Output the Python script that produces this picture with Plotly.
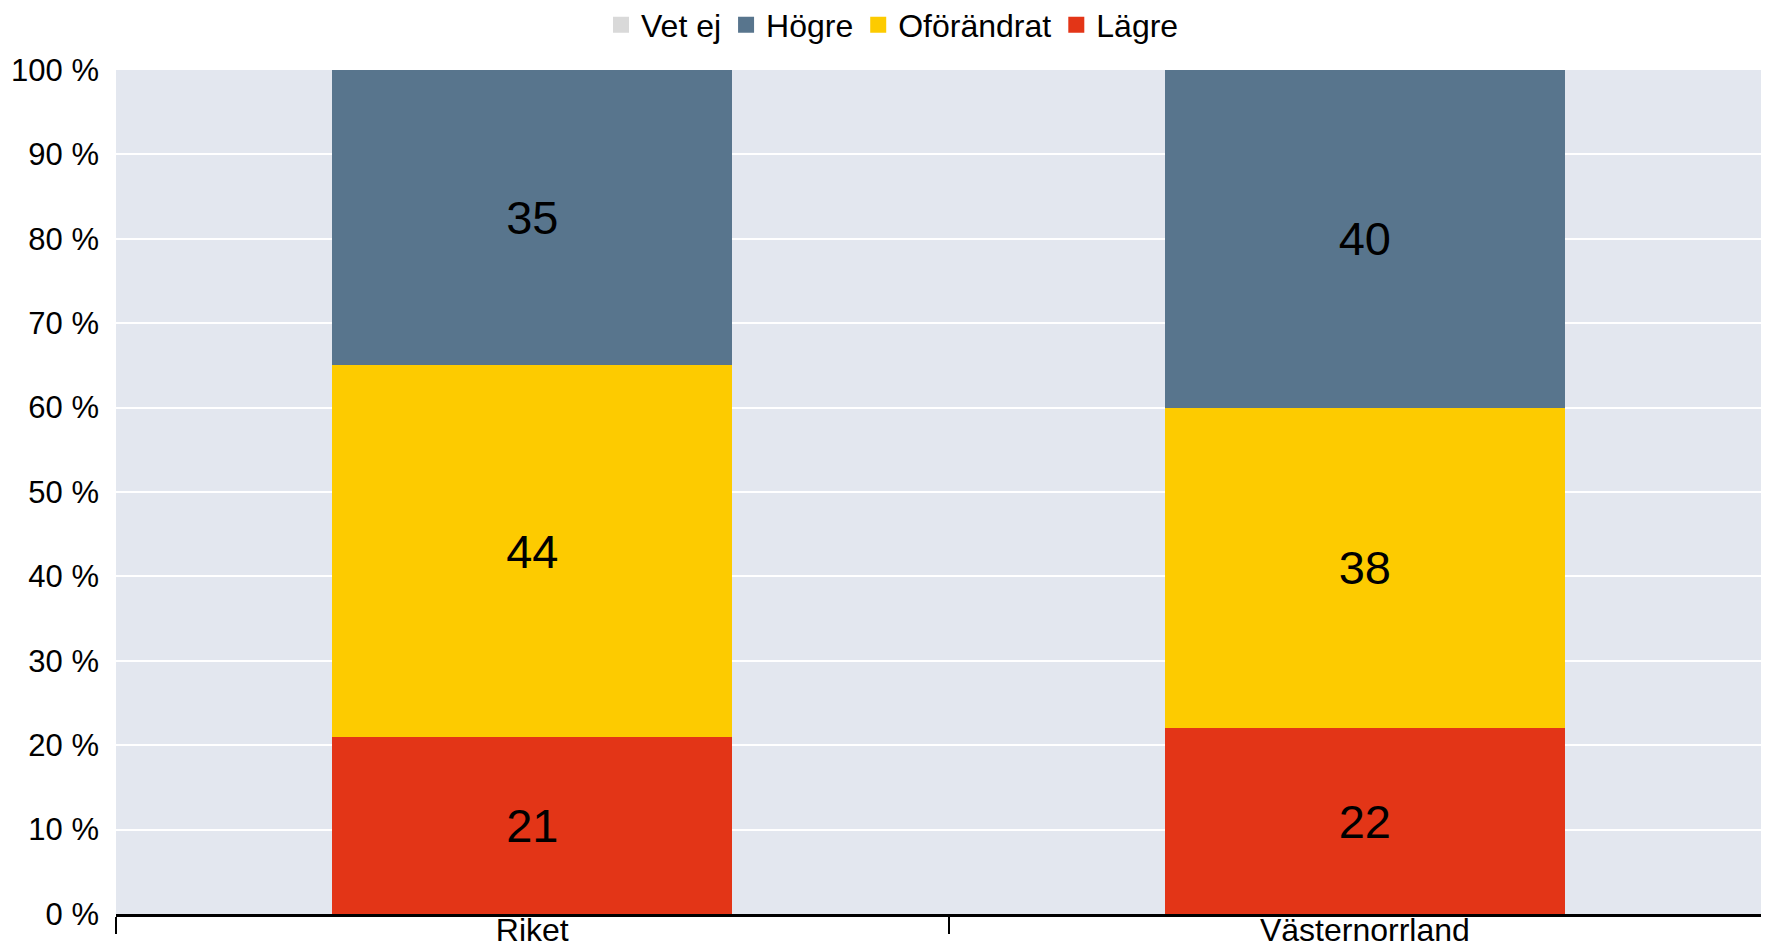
import plotly.graph_objects as go

categories = ["Riket", "Västernorrland"]
lagre = [21, 22]
oforandrat = [44, 38]
hogre = [35, 40]
vet_ej = [0, 0]

series = [
    ("Lägre", lagre, "#e33517"),
    ("Oförändrat", oforandrat, "#fdcb00"),
    ("Högre", hogre, "#58758d"),
    ("Vet ej", vet_ej, "#d9d9d9"),
]

fig = go.Figure()
for name, vals, col in series:
    fig.add_trace(go.Bar(
        x=categories, y=vals, name=name, legendgroup=name, showlegend=False,
        marker=dict(color=col, line=dict(width=0)),
        text=[str(v) if v else "" for v in vals], textposition="inside",
        insidetextanchor="middle", textfont=dict(size=47, color="#000000"),
        width=0.48, hoverinfo="skip",
    ))
# legend entries (square swatches)
for name, vals, col in series:
    fig.add_trace(go.Scatter(
        x=[None], y=[None], mode="markers", name=name, legendgroup=name,
        marker=dict(symbol="square", size=16, color=col), hoverinfo="skip",
    ))

fig.update_layout(
    barmode="stack",
    width=1769, height=939,
    margin=dict(l=108, r=0, t=62, b=33, autoexpand=False),
    paper_bgcolor="white",
    plot_bgcolor="#e3e7ef",
    font=dict(family="Liberation Sans, Arial, sans-serif", size=31, color="#000000"),
    uniformtext=dict(minsize=10, mode="show"),
    legend=dict(
        orientation="h", traceorder="reversed",
        xref="container", yref="container",
        x=0.5, xanchor="center", y=0.982, yanchor="middle",
        font=dict(size=32), itemsizing="trace", itemclick=False,
        itemwidth=30,
        bgcolor="rgba(0,0,0,0)",
    ),
    showlegend=True,
)

fig.update_yaxes(
    range=[0, 100], dtick=10, ticksuffix=" %",
    showgrid=True, gridcolor="#ffffff", gridwidth=2,
    zeroline=False, showline=False,
    ticks="", ticklabelstandoff=16,
    tickfont=dict(size=31),
    fixedrange=True,
)

fig.update_xaxes(
    range=[-0.5, 1.495],
    showline=True, linecolor="#000000", linewidth=3,
    ticks="outside", tickson="boundaries", ticklen=17, tickcolor="#000000", tickwidth=1.5,
    ticklabelstandoff=-14,
    tickfont=dict(size=32),
    showgrid=False, zeroline=False, fixedrange=True,
)

fig.write_html("out.html", post_script="document.body.style.overflow='hidden';")
